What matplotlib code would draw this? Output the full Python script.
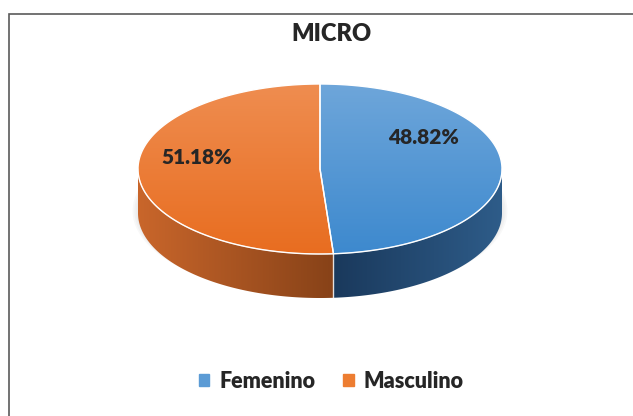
import numpy as np
import matplotlib.pyplot as plt
from matplotlib.patches import Polygon, Rectangle, Patch
from matplotlib.colors import LinearSegmentedColormap

labels = ['Femenino', 'Masculino']
values = [48.82, 51.18]
pct_text = ['48.82%', '51.18%']
top_hi = ['#6EA6DA', '#EF8D50']
top_lo = ['#3D89CE', '#E86D20']
side_a = ['#1A395C', '#C9662B']   # colour at left end of visible side
side_b = ['#2E5C89', '#874218']   # colour at right end of visible side
legend_colors = ['#5B9BD5', '#ED7D31']
label_pos = [(424, 278), (197, 258)]

W, H = 633, 416
fig = plt.figure(figsize=(W / 100, H / 100), dpi=100)
ax = fig.add_axes([0, 0, 1, 1])
ax.set_xlim(0, W)
ax.set_ylim(0, H)
ax.axis('off')

cx, cy = 320, H - 169
rx, ry = 182, 85
depth = 44

frac = np.array(values) / sum(values)
edges = 90 - 360 * np.concatenate([[0], np.cumsum(frac)])  # degrees, clockwise


def pt(t, dy=0):
    r = np.radians(t)
    return cx + rx * np.cos(r), cy + ry * np.sin(r) - dy


# soft shadow under the pie
for k in range(3):
    sh = [pt(t, depth - 3 - k) for t in np.linspace(0, 360, 200)]
    ax.add_patch(Polygon([(cx + (x - cx) * (1.01 + 0.01 * k), y - 1 - k) for x, y in sh],
                         closed=True, fc='gray', ec='none', alpha=0.05, zorder=1))

# side walls: visible front part of each slice (180..360 deg)
for s in range(len(values)):
    lo, hi = sorted([edges[s] % 360, edges[s + 1] % 360])
    a0, a1 = edges[s + 1] % 360, edges[s] % 360
    # slice covers angles going counter-clockwise from edges[s+1] to edges[s]
    tt = np.linspace(a0, a0 + (a1 - a0) % 360, 400)
    tt = tt[(np.mod(tt, 360) >= 180) | (np.mod(tt, 360) == 0)]
    tt = np.mod(tt, 360)
    tt[tt == 0] = 360
    tt = tt[tt >= 180]
    if len(tt) < 2:
        continue
    tt = np.sort(tt)
    top = [pt(t) for t in tt]
    bot = [pt(t, depth) for t in tt[::-1]]
    poly = Polygon(top + bot, closed=True, fc='none', ec='none', zorder=2)
    ax.add_patch(poly)
    xs = [p[0] for p in top]
    cmap = LinearSegmentedColormap.from_list('s', [side_a[s], side_b[s]])
    grad = np.linspace(0, 1, 256).reshape(1, -1)
    im = ax.imshow(grad, cmap=cmap, aspect='auto', origin='lower',
                   extent=[min(xs), max(xs), cy - ry - depth - 2, cy + 2], zorder=2)
    im.set_clip_path(poly)

# vertical white line on the side at slice boundaries
for b in edges[1:-1] % 360:
    if 180 < b < 360:
        ax.plot([pt(b)[0], pt(b, depth)[0]], [pt(b)[1], pt(b, depth)[1]],
                color='white', lw=1.0, alpha=0.8, zorder=3)

# top faces with vertical gradient
for s in range(len(values)):
    tt = np.linspace(edges[s], edges[s + 1], 200)
    verts = [(cx, cy)] + [pt(t) for t in tt]
    poly = Polygon(verts, closed=True, fc='none', ec='white', lw=1.0, zorder=5)
    ax.add_patch(poly)
    cmap = LinearSegmentedColormap.from_list('g', [top_lo[s], top_hi[s]])
    grad = np.linspace(0, 1, 256).reshape(-1, 1)
    im = ax.imshow(grad, cmap=cmap, origin='lower', aspect='auto',
                   extent=[cx - rx, cx + rx, cy - ry, cy + ry], zorder=4)
    im.set_clip_path(poly)

# light rim on front edge of top
rim = np.array([pt(t) for t in np.linspace(180, 360, 200)])
ax.plot(rim[:, 0], rim[:, 1], color='white', lw=0.8, alpha=0.5, zorder=6)

ax.set_xlim(0, W)
ax.set_ylim(0, H)

txt_color = '#262626'
for s in range(len(values)):
    ax.text(label_pos[s][0], label_pos[s][1], pct_text[s], ha='center', va='center',
            fontsize=15, fontweight='heavy', family='Lato', color=txt_color, zorder=7)

ax.text(331, H - 34, 'MICRO', ha='center', va='center', fontsize=17,
        fontweight='heavy', family='Lato', color=txt_color)

handles = [Patch(color=c, label=l) for c, l in zip(legend_colors, labels)]
ax.legend(handles=handles, loc='center', bbox_to_anchor=(331 / W, (H - 381) / H),
          ncol=2, frameon=False, prop=dict(family='Lato', weight='heavy', size=15.5),
          handlelength=0.5, handleheight=0.5, handletextpad=0.45, columnspacing=1.3,
          labelcolor=txt_color)

ax.add_patch(Rectangle((9, -20), 700, H - 14 + 20, fc='none', ec='#5a5a5a', lw=1.2, zorder=8))

fig.savefig('out.png', dpi=100)
